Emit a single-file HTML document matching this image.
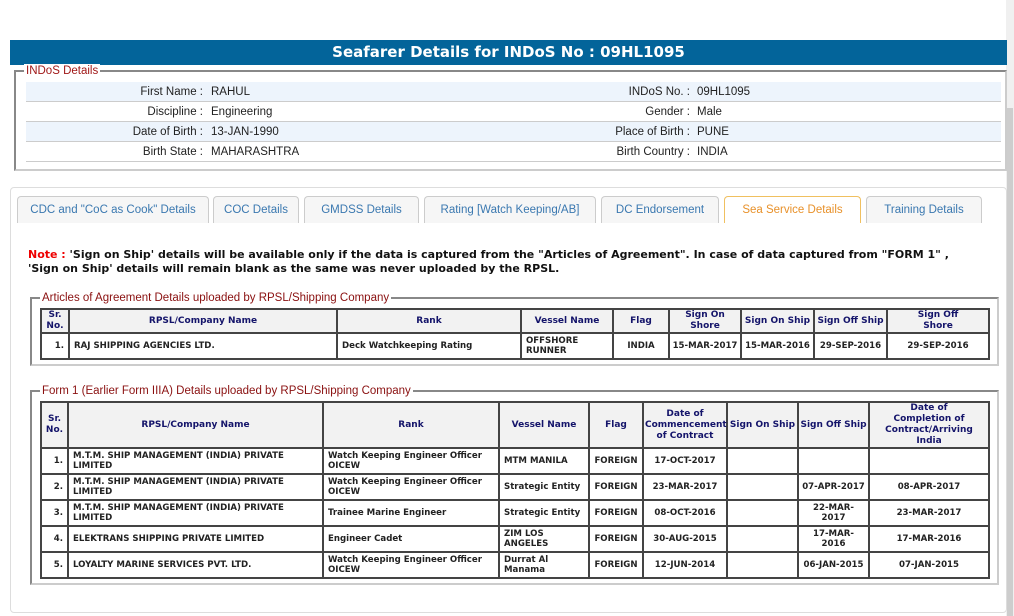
<!DOCTYPE html>
<html><head><meta charset="utf-8">
<style>
*{box-sizing:border-box;margin:0;padding:0}
body{width:1014px;height:616px;background:#fff;position:relative;overflow:hidden;font-family:"Liberation Sans",Arial,sans-serif}
.sb{position:absolute;left:1006px;top:0;width:8px;height:616px;background:#f0f0f0}
.sb i{position:absolute;left:1px;top:108px;width:6px;height:508px;background:#cdcdcd}
.hdr{position:absolute;left:10px;top:40px;width:997px;height:25px;background:#03649a;color:#fff;font:bold 15px "DejaVu Sans",Verdana,sans-serif;text-align:center;line-height:25px}
.fs{position:absolute;border-color:#888 #ccc #ccc #888;border-width:2px;border-style:solid}
.lg{position:absolute;top:-8px;left:8px;background:#fff;padding:0 2px;font-size:11.5px;line-height:14px}
.row{position:absolute;left:10px;width:975px;height:20px;border-bottom:1px solid #ccc;font-size:11.5px;line-height:20px;color:#222}
.row.b{background:#edf4fc}
.row span{position:absolute}
.tabs{position:absolute;left:10px;top:187px;width:997px;height:426px;border:1px solid #ddd;border-radius:4px}
.tab{position:absolute;top:196px;height:27px;border:1px solid #ccc;border-bottom:none;border-radius:4px 4px 0 0;background:#f6f6f6;color:#3a78b0;font-size:11.5px;text-align:center;line-height:26px;white-space:nowrap}
.tab.a{background:#fff;border-color:#f0c060;color:#e8912a}
.note{position:absolute;left:28px;top:248px;width:945px;font:bold 11px "DejaVu Sans",Verdana,sans-serif;line-height:14px;color:#111;letter-spacing:0}
.note b{color:#e00}
table{position:absolute;border-collapse:collapse;table-layout:fixed;font:bold 8.6px "DejaVu Sans",Verdana,sans-serif;color:#222}
td,th{border:2px solid #444;padding:0 4px;vertical-align:middle;line-height:10px}
th{background:#f2f2f2;color:#14146a;font-size:9px;line-height:11px;text-align:center;padding:0 1px}
td.c{text-align:center;white-space:nowrap;padding:0 1px}
td.r{text-align:right}
</style></head><body>
<div class="sb"><i></i></div>
<div class="hdr">Seafarer Details for INDoS No : 09HL1095</div>
<div class="fs" style="left:14px;top:70px;width:993px;height:101px">
<div class="lg" style="color:#a01818">INDoS Details</div>
<div class="row b" style="top:10px"><span style="right:798px">First Name :</span><span style="left:185px">RAHUL</span><span style="right:311px">INDoS No. :</span><span style="left:671px">09HL1095</span></div>
<div class="row" style="top:30px"><span style="right:798px">Discipline :</span><span style="left:185px">Engineering</span><span style="right:311px">Gender :</span><span style="left:671px">Male</span></div>
<div class="row b" style="top:50px"><span style="right:798px">Date of Birth :</span><span style="left:185px">13-JAN-1990</span><span style="right:311px">Place of Birth :</span><span style="left:671px">PUNE</span></div>
<div class="row" style="top:70px"><span style="right:798px">Birth State :</span><span style="left:185px">MAHARASHTRA</span><span style="right:311px">Birth Country :</span><span style="left:671px">INDIA</span></div>
</div>
<div class="tabs"></div>
<div class="tab" style="left:17px;width:192px">CDC and "CoC as Cook" Details</div>
<div class="tab" style="left:213px;width:86px">COC Details</div>
<div class="tab" style="left:304px;width:115px">GMDSS Details</div>
<div class="tab" style="left:424px;width:172px">Rating [Watch Keeping/AB]</div>
<div class="tab" style="left:601px;width:118px">DC Endorsement</div>
<div class="tab a" style="left:724px;width:137px">Sea Service Details</div>
<div class="tab" style="left:866px;width:116px">Training Details</div>
<div class="note"><b>Note :</b> 'Sign on Ship' details will be available only if the data is captured from the "Articles of Agreement". In case of data captured from "FORM 1" , 'Sign on Ship' details will remain blank as the same was never uploaded by the RPSL.</div>

<div class="fs" style="left:30px;top:297px;width:969px;height:69px"><div class="lg" style="color:#8a1010">Articles of Agreement Details uploaded by RPSL/Shipping Company</div></div>
<table style="left:40px;top:308px;width:948px">
<colgroup><col style="width:28px"><col style="width:268px"><col style="width:184px"><col style="width:92px"><col style="width:56px"><col style="width:72px"><col style="width:73px"><col style="width:73px"><col style="width:102px"></colgroup>
<tr style="height:24px"><th>Sr.<br>No.</th><th>RPSL/Company Name</th><th>Rank</th><th>Vessel Name</th><th>Flag</th><th>Sign On<br>Shore</th><th>Sign On Ship</th><th>Sign Off Ship</th><th>Sign Off<br>Shore</th></tr>
<tr style="height:26px"><td class="r">1.</td><td>RAJ SHIPPING AGENCIES LTD.</td><td>Deck Watchkeeping Rating</td><td>OFFSHORE RUNNER</td><td class="c">INDIA</td><td class="c">15-MAR-2017</td><td class="c">15-MAR-2016</td><td class="c">29-SEP-2016</td><td class="c">29-SEP-2016</td></tr>
</table>

<div class="fs" style="left:30px;top:390px;width:969px;height:195px"><div class="lg" style="color:#8a1010">Form 1 (Earlier Form IIIA) Details uploaded by RPSL/Shipping Company</div></div>
<table style="left:40px;top:401px;width:948px">
<colgroup><col style="width:27px"><col style="width:255px"><col style="width:176px"><col style="width:90px"><col style="width:54px"><col style="width:84px"><col style="width:71px"><col style="width:71px"><col style="width:120px"></colgroup>
<tr style="height:46px"><th>Sr.<br>No.</th><th>RPSL/Company Name</th><th>Rank</th><th>Vessel Name</th><th>Flag</th><th>Date of<br>Commencement<br>of Contract</th><th style="white-space:nowrap">Sign On Ship</th><th style="white-space:nowrap">Sign Off Ship</th><th>Date of<br>Completion of<br>Contract/Arriving<br>India</th></tr>
<tr style="height:26px"><td class="r">1.</td><td>M.T.M. SHIP MANAGEMENT (INDIA) PRIVATE<br>LIMITED</td><td>Watch Keeping Engineer Officer OICEW</td><td>MTM MANILA</td><td class="c">FOREIGN</td><td class="c">17-OCT-2017</td><td></td><td></td><td></td></tr>
<tr style="height:26px"><td class="r">2.</td><td>M.T.M. SHIP MANAGEMENT (INDIA) PRIVATE<br>LIMITED</td><td>Watch Keeping Engineer Officer OICEW</td><td>Strategic Entity</td><td class="c">FOREIGN</td><td class="c">23-MAR-2017</td><td></td><td class="c">07-APR-2017</td><td class="c">08-APR-2017</td></tr>
<tr style="height:26px"><td class="r">3.</td><td>M.T.M. SHIP MANAGEMENT (INDIA) PRIVATE<br>LIMITED</td><td>Trainee Marine Engineer</td><td>Strategic Entity</td><td class="c">FOREIGN</td><td class="c">08-OCT-2016</td><td></td><td class="c">22-MAR-<br>2017</td><td class="c">23-MAR-2017</td></tr>
<tr style="height:26px"><td class="r">4.</td><td>ELEKTRANS SHIPPING PRIVATE LIMITED</td><td>Engineer Cadet</td><td>ZIM LOS ANGELES</td><td class="c">FOREIGN</td><td class="c">30-AUG-2015</td><td></td><td class="c">17-MAR-<br>2016</td><td class="c">17-MAR-2016</td></tr>
<tr style="height:26px"><td class="r">5.</td><td>LOYALTY MARINE SERVICES PVT. LTD.</td><td>Watch Keeping Engineer Officer OICEW</td><td>Durrat Al Manama</td><td class="c">FOREIGN</td><td class="c">12-JUN-2014</td><td></td><td class="c">06-JAN-2015</td><td class="c">07-JAN-2015</td></tr>
</table>
</body></html>
